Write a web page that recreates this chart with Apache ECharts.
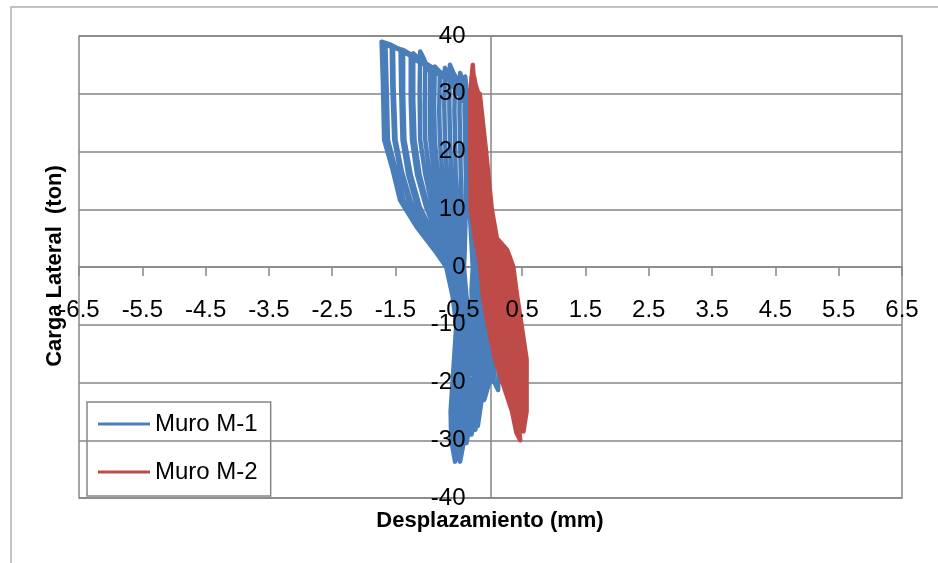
<!DOCTYPE html>
<html><head><meta charset="utf-8">
<script src="https://cdn.jsdelivr.net/npm/echarts@6/dist/echarts.min.js"></script>
<style>html,body{margin:0;padding:0;background:#fff}#c{width:938px;height:563px}</style>
</head><body><div id="c"></div>
<script>
// Axis ticks
const xTicks = [-6.5,-5.5,-4.5,-3.5,-2.5,-1.5,-0.5,0.5,1.5,2.5,3.5,4.5,5.5,6.5];
const yTicks = [-40,-30,-20,-10,0,10,20,30,40];
const seriesNames = ['Muro M-1','Muro M-2'];

// Muro M-1 hysteresis cycles [displacement mm, load ton], small -> large
const m1_c18 = [[0,0],[-0.28,10],[-0.3,20],[-0.34,28],[-0.38,31],[-0.40,33],[-0.41,27],[-0.4,22],[-0.39,16],[-0.39,10.5],[-0.4,6],[-0.41,2],[-0.42,0],[-0.38,-5],[-0.28,-10],[-0.12,-15],[0.05,-19.5],[0.06,-14],[-0.02,-8],[-0.13,-3],[-0.22,0]];
const m1_c17 = [[-0.28,10],[-0.3,20],[-0.34,28],[-0.42,31.5],[-0.45,31.8],[-0.48,33.6],[-0.49,27],[-0.48,22],[-0.47,16],[-0.46,10.5],[-0.45,6],[-0.45,2],[-0.45,0],[-0.42,-5],[-0.35,-10],[-0.22,-15],[-0.04,-20],[0.02,-15],[-0.04,-9],[-0.15,-3],[-0.25,0]];
const m1_c16 = [[-0.3,10],[-0.33,20],[-0.36,28],[-0.44,31],[-0.48,31.5],[-0.56,32.5],[-0.57,27],[-0.56,22],[-0.55,16],[-0.52,10.5],[-0.5,6],[-0.49,2],[-0.48,0],[-0.46,-5],[-0.4,-10],[-0.28,-15],[0.0,-20],[0.08,-16],[0.04,-10],[-0.08,-4],[-0.24,0]];
const m1_c15 = [[-0.3,10],[-0.33,20],[-0.36,28],[-0.44,31],[-0.5,32],[-0.58,33.5],[-0.64,35],[-0.65,28],[-0.64,22],[-0.62,16],[-0.58,10.5],[-0.55,6],[-0.53,2],[-0.51,0],[-0.44,-5],[-0.33,-10],[-0.15,-15],[0.02,-19],[0.12,-21.3],[0.13,-16],[0.07,-10],[-0.06,-4],[-0.22,0]];
const m1_c14 = [[-0.3,10],[-0.33,20],[-0.36,28],[-0.44,31],[-0.5,31.5],[-0.62,33],[-0.72,34.5],[-0.73,28],[-0.72,22],[-0.69,16],[-0.64,10.5],[-0.6,6],[-0.57,2],[-0.54,0],[-0.5,-5],[-0.45,-10],[-0.36,-15],[-0.22,-20],[-0.1,-23],[-0.02,-20],[0.1,-16],[0.05,-9],[-0.1,-3],[-0.23,0]];
const m1_c13 = [[-0.3,10],[-0.33,20],[-0.36,28],[-0.44,31],[-0.55,31.5],[-0.7,32.6],[-0.8,33.2],[-0.81,27],[-0.8,22],[-0.76,16],[-0.7,10.5],[-0.64,6],[-0.6,2],[-0.56,0],[-0.53,-5],[-0.48,-10],[-0.44,-15],[-0.38,-20],[-0.27,-25],[-0.2,-27.5],[-0.14,-23],[-0.05,-18],[0.02,-12],[-0.06,-6],[-0.2,-1.5],[-0.26,0]];
const m1_c12 = [[-0.3,10],[-0.33,20],[-0.36,28],[-0.44,31],[-0.6,32.5],[-0.8,33.8],[-0.88,34.7],[-0.89,28],[-0.88,22],[-0.83,16],[-0.75,10.5],[-0.68,6],[-0.62,2],[-0.58,0],[-0.5,-5],[-0.42,-10],[-0.32,-15],[-0.24,-20],[-0.17,-24.8],[-0.1,-20],[-0.06,-14],[-0.1,-7],[-0.18,-2.5],[-0.24,0]];
const m1_c11 = [[-0.3,10],[-0.33,20],[-0.36,28],[-0.44,31],[-0.55,31.8],[-0.8,33.3],[-0.95,34.2],[-0.96,28],[-0.95,22],[-0.89,16],[-0.8,10.5],[-0.72,6],[-0.64,2],[-0.59,0],[-0.55,-5],[-0.5,-10],[-0.49,-15],[-0.46,-20],[-0.4,-25],[-0.35,-27],[-0.28,-23],[-0.2,-18],[-0.14,-12],[-0.14,-6],[-0.2,-2],[-0.26,0]];
const m1_c10 = [[-0.31,10],[-0.34,20],[-0.36,28],[-0.44,31],[-0.6,32],[-0.85,33.8],[-1.03,35],[-1.04,28],[-1.03,22],[-0.96,16],[-0.86,10.5],[-0.76,6],[-0.66,2],[-0.6,0],[-0.56,-5],[-0.47,-10],[-0.4,-15],[-0.34,-20],[-0.28,-25],[-0.24,-28.2],[-0.15,-23],[-0.08,-17],[-0.02,-11],[-0.1,-5],[-0.25,0]];
const m1_c9 = [[-0.31,10],[-0.34,20],[-0.36,28],[-0.45,30.5],[-0.65,32.8],[-0.9,34.5],[-0.98,34.1],[-1.05,36],[-1.11,37.3],[-1.12,30],[-1.11,22],[-1.03,16],[-0.92,10.5],[-0.8,6],[-0.68,2],[-0.61,0],[-0.57,-5],[-0.52,-10],[-0.5,-15],[-0.45,-20],[-0.37,-25],[-0.3,-29],[-0.22,-25],[-0.12,-19],[-0.06,-13],[-0.05,-7],[-0.17,-2],[-0.26,0]];
const m1_c8 = [[-0.32,10],[-0.35,20],[-0.37,28],[-0.5,31],[-0.8,33.5],[-1.05,35.3],[-1.22,37],[-1.22,29],[-1.2,22],[-1.12,16],[-0.99,10.5],[-0.84,6],[-0.7,2],[-0.62,0],[-0.58,-5],[-0.53,-10],[-0.54,-15],[-0.56,-20],[-0.56,-25],[-0.52,-30],[-0.48,-33.7],[-0.4,-29],[-0.3,-23],[-0.22,-16],[-0.18,-9],[-0.2,-3.5],[-0.26,0]];
const m1_c7 = [[-0.32,10],[-0.35,20],[-0.37,28],[-0.6,32],[-0.95,34.5],[-1.18,35.8],[-1.26,36.6],[-1.26,29],[-1.24,22],[-1.16,16],[-1.02,10.5],[-0.86,6],[-0.71,2],[-0.63,0],[-0.57,-5],[-0.52,-10],[-0.51,-15],[-0.5,-20],[-0.46,-25],[-0.38,-30.5],[-0.3,-26],[-0.2,-20],[-0.1,-14],[-0.07,-8],[-0.18,-2],[-0.26,0]];
const m1_c6 = [[-0.32,10],[-0.35,20],[-0.37,28],[-0.55,31.5],[-0.9,34.2],[-1.2,36.4],[-1.38,37.6],[-1.38,30],[-1.36,22],[-1.26,16],[-1.12,10.5],[-0.92,6],[-0.74,2],[-0.64,0],[-0.59,-5],[-0.53,-10],[-0.56,-15],[-0.59,-20],[-0.61,-25],[-0.6,-30],[-0.56,-33.7],[-0.46,-30],[-0.36,-25],[-0.28,-19],[-0.24,-12],[-0.24,-5],[-0.26,0]];
const m1_c5 = [[-0.32,10],[-0.35,20],[-0.37,28],[-0.65,32.5],[-1.0,35],[-1.3,36.8],[-1.42,37.5],[-1.41,30],[-1.39,22],[-1.3,16],[-1.16,10.5],[-0.94,6],[-0.75,2],[-0.65,0],[-0.56,-5],[-0.49,-10],[-0.48,-15],[-0.5,-20],[-0.49,-25],[-0.45,-31.5],[-0.36,-27],[-0.26,-21],[-0.16,-15],[-0.1,-9],[-0.18,-3],[-0.26,0]];
const m1_c4 = [[-0.33,10],[-0.36,20],[-0.37,28],[-0.6,32],[-1.0,35],[-1.3,37],[-1.54,38.1],[-1.53,31],[-1.5,22],[-1.4,16.5],[-1.25,11],[-1.0,6.5],[-0.78,2.2],[-0.66,0],[-0.59,-5],[-0.54,-10],[-0.57,-15],[-0.6,-20],[-0.62,-25],[-0.58,-30],[-0.55,-32],[-0.44,-28],[-0.32,-22],[-0.22,-15],[-0.14,-9],[-0.16,-4],[-0.25,0]];
const m1_c3 = [[-0.33,10],[-0.36,20],[-0.38,28],[-0.7,33],[-1.1,35.8],[-1.4,37.6],[-1.56,38.3],[-1.55,31],[-1.52,22],[-1.42,16.5],[-1.28,11],[-1.03,6.5],[-0.79,2.2],[-0.67,0],[-0.58,-5],[-0.51,-10],[-0.53,-15],[-0.56,-20],[-0.58,-25],[-0.55,-31],[-0.46,-27],[-0.38,-21],[-0.3,-15],[-0.28,-9],[-0.3,-4],[-0.28,0]];
const m1_c2 = [[-0.33,10],[-0.36,20],[-0.38,28],[-0.65,32.5],[-1.05,35.3],[-1.4,37.5],[-1.66,38.5],[-1.64,31],[-1.62,22],[-1.5,17],[-1.37,11.5],[-1.1,7],[-0.82,2.5],[-0.68,0],[-0.6,-5],[-0.54,-10],[-0.56,-15],[-0.58,-20],[-0.6,-25],[-0.57,-30],[-0.52,-33],[-0.42,-29],[-0.34,-24],[-0.26,-18],[-0.2,-11],[-0.22,-5],[-0.26,0]];
const m1_c1 = [[-0.33,10],[-0.37,20],[-0.38,28],[-0.7,33],[-1.1,35.6],[-1.45,37.8],[-1.6,38.6],[-1.72,39],[-1.7,32],[-1.68,22],[-1.55,17],[-1.43,11.6],[-1.17,7],[-0.85,2.4],[-0.7,0],[-0.6,-5],[-0.52,-10],[-0.55,-15],[-0.6,-20],[-0.63,-25],[-0.62,-30],[-0.56,-33.7],[-0.47,-31],[-0.36,-26],[-0.2,-20],[0.0,-15],[0.0,-8],[-0.14,-3],[-0.26,0]];

// Muro M-2 hysteresis cycles [displacement mm, load ton]
const m2_start = [[0,0],[-0.1,10],[-0.16,20],[-0.2,27]];
const m2_k1 = [[-0.22,29],[-0.16,20],[-0.10,10],[-0.03,5],[0.17,0],[0.22,-5],[0.29,-10],[0.39,-16],[0.43,-20],[0.48,-25],[0.52,-28.5],[0.57,-25],[0.57,-20],[0.57,-16],[0.49,-10],[0.42,-5],[0.36,0],[0.31,1.6],[0.26,3],[0.10,5],[0.02,10],[-0.07,20],[-0.17,30]];
const m2_k2 = [[-0.24,30],[-0.18,20],[-0.13,10],[-0.05,5],[0.13,0],[0.18,-5],[0.26,-10],[0.35,-16],[0.40,-20],[0.47,-25],[0.53,-27.5],[0.55,-25],[0.54,-20],[0.54,-16],[0.45,-10],[0.38,-5],[0.32,0],[0.08,5],[0.0,10],[-0.09,20],[-0.18,30]];
const m2_k3 = [[-0.26,31],[-0.2,20],[-0.15,10],[-0.07,5],[0.09,0],[0.14,-5],[0.22,-10],[0.32,-16],[0.38,-20],[0.45,-25],[0.5,-26],[0.54,-25],[0.52,-20],[0.50,-16],[0.42,-10],[0.34,-5],[0.29,0],[0.05,5],[-0.03,10],[-0.11,20],[-0.19,30]];
const m2_k4 = [[-0.25,32],[-0.21,20],[-0.17,10],[-0.10,5],[0.06,0],[0.11,-5],[0.18,-10],[0.28,-16],[0.35,-20],[0.44,-25],[0.48,-25.5],[0.53,-24],[0.49,-20],[0.47,-16],[0.38,-10],[0.31,-5],[0.25,0],[0.03,5],[-0.05,10],[-0.12,20],[-0.2,30]];
const m2_k5 = [[-0.29,34],[-0.27,30],[-0.23,20],[-0.19,10],[-0.12,5],[0.02,0],[0.07,-5],[0.15,-10],[0.25,-16],[0.32,-20],[0.42,-25],[0.46,-26],[0.51,-25],[0.46,-20],[0.43,-16],[0.34,-10],[0.27,-5],[0.21,0],[0.0,5],[-0.07,10],[-0.14,20],[-0.21,30]];
const m2_k6 = [[-0.26,33],[-0.28,30],[-0.25,20],[-0.22,10],[-0.14,5],[-0.01,0],[0.03,-5],[0.11,-10],[0.21,-16],[0.30,-20],[0.40,-25],[0.45,-27],[0.49,-25],[0.44,-20],[0.40,-16],[0.30,-10],[0.23,-5],[0.18,0],[-0.02,5],[-0.10,10],[-0.16,20],[-0.22,30]];
const m2_k7 = [[-0.27,32.5],[-0.29,30],[-0.27,20],[-0.24,10],[-0.17,5],[-0.05,0],[-0.01,-5],[0.07,-10],[0.18,-16],[0.27,-20],[0.39,-25],[0.44,-27.5],[0.47,-25],[0.41,-20],[0.36,-16],[0.27,-10],[0.19,-5],[0.14,0],[-0.04,5],[-0.12,10],[-0.18,20],[-0.23,30]];
const m2_k8 = [[-0.27,33.5],[-0.3,30],[-0.29,20],[-0.26,10],[-0.19,5],[-0.09,0],[-0.04,-5],[0.03,-10],[0.14,-16],[0.24,-20],[0.37,-25],[0.44,-28.5],[0.46,-25],[0.38,-20],[0.33,-16],[0.23,-10],[0.16,-5],[0.11,0],[-0.07,5],[-0.14,10],[-0.19,20],[-0.24,30]];
const m2_k9 = [[-0.3,33],[-0.31,30],[-0.30,20],[-0.29,10],[-0.22,5],[-0.12,0],[-0.08,-5],[0.0,-10],[0.11,-16],[0.22,-20],[0.36,-25],[0.46,-29],[0.44,-25],[0.36,-20],[0.29,-16],[0.19,-10],[0.12,-5],[0.07,0],[-0.09,5],[-0.16,10],[-0.21,20],[-0.25,30]];
const m2_k10 = [[-0.28,35],[-0.32,30],[-0.32,20],[-0.31,10],[-0.24,5],[-0.16,0],[-0.12,-5],[-0.04,-10],[0.07,-16],[0.19,-20],[0.34,-25],[0.41,-28.7],[0.47,-30],[0.42,-25],[0.33,-20],[0.26,-16],[0.16,-10],[0.08,-5],[0.03,0],[-0.11,5],[-0.19,10],[-0.23,20],[-0.26,30]];

const m1 = [].concat(m1_c18,m1_c17,m1_c16,m1_c15,m1_c14,m1_c13,m1_c12,m1_c11,m1_c10,m1_c9,m1_c8,m1_c7,m1_c6,m1_c5,m1_c4,m1_c3,m1_c2,m1_c1);
const m2 = [].concat(m2_start,m2_k1,m2_k2,m2_k3,m2_k4,m2_k5,m2_k6,m2_k7,m2_k8,m2_k9,m2_k10);

const FONT = "'Liberation Sans', Arial, sans-serif";
const GRID = '#868686';
const BLUE = '#4a7ebb', RED = '#be4b48';
const W = 938, H = 563;
const G = {left:79, right:36, top:36, bottom:65};
const xInt = xTicks[1]-xTicks[0], yInt = yTicks[1]-yTicks[0];
const xMin = xTicks[0], xMax = xTicks[xTicks.length-1];
const yMin = yTicks[0], yMax = yTicks[yTicks.length-1];
// label axes are shifted so that they sit on the zero lines (like the axis lines)
const gw = W - G.left - G.right, gh = H - G.top - G.bottom;
const xLabelOffset = -gh * (0 - yMin) / (yMax - yMin);
const yLabelOffset = -gw * (0 - xMin) / (xMax - xMin);

const chart = echarts.init(document.getElementById('c'), null, {renderer:'canvas'});
chart.setOption({
  animation: false,
  backgroundColor: '#fff',
  grid: Object.assign({show:true, borderColor:GRID, borderWidth:1.5, outerBoundsMode:'none', containLabel:false}, G),
  xAxis: [
    {type:'value', min:xMin, max:xMax, interval:xInt, position:'bottom', z:0,
     axisLine:{show:true, onZero:true, onZeroAxisIndex:0, lineStyle:{color:GRID, width:1.5}},
     axisTick:{show:true, length:9, lineStyle:{color:GRID, width:1.5}},
     axisLabel:{show:false}, splitLine:{show:false}},
    {type:'value', min:xMin, max:xMax, interval:xInt, position:'bottom', offset:xLabelOffset, z:10,
     axisLine:{show:false, onZero:false},
     axisTick:{show:false}, splitLine:{show:false},
     axisLabel:{show:true, margin:31, color:'#000', fontFamily:FONT, fontSize:24, showMinLabel:true, showMaxLabel:true, hideOverlap:false,
       formatter: v => String(v)}}
  ],
  yAxis: [
    {type:'value', min:yMin, max:yMax, interval:yInt, position:'left', z:0,
     axisLine:{show:true, onZero:true, onZeroAxisIndex:0, lineStyle:{color:GRID, width:1.5}},
     axisTick:{show:false}, axisLabel:{show:false},
     splitLine:{show:true, lineStyle:{color:GRID, width:1.5}}},
    {type:'value', min:yMin, max:yMax, interval:yInt, position:'left', offset:yLabelOffset, z:10,
     axisLine:{show:false, onZero:false},
     axisTick:{show:false}, splitLine:{show:false},
     axisLabel:{show:true, margin:25, color:'#000', fontFamily:FONT, fontSize:24, showMinLabel:true, showMaxLabel:true, hideOverlap:false}}
  ],
  legend: {
    data: seriesNames, orient:'vertical', left:87, top:402, icon:'rect',
    padding:[9,13,11,11], itemGap:22, itemWidth:52, itemHeight:3,
    borderColor:GRID, borderWidth:1.5, backgroundColor:'transparent',
    textStyle:{fontFamily:FONT, fontSize:24, color:'#000', lineHeight:26}
  },
  series: [
    {name:seriesNames[0], type:'line', data:m1, xAxisIndex:0, yAxisIndex:0, symbol:'none', showSymbol:false,
     lineStyle:{color:BLUE, width:4.5, join:'round', cap:'round'}, itemStyle:{color:BLUE}, z:2},
    {name:seriesNames[1], type:'line', data:m2, xAxisIndex:0, yAxisIndex:0, symbol:'none', showSymbol:false,
     lineStyle:{color:RED, width:4.5, join:'round', cap:'round'}, itemStyle:{color:RED}, z:3}
  ],
  graphic: [
    {type:'rect', z:-1, silent:true, shape:{x:11, y:7, width:940, height:570}, style:{fill:'none', stroke:'#b0b0b0', lineWidth:1.5}},
    {type:'text', x:490, y:521, z:20, style:{text:'Desplazamiento (mm)', font:"bold 22px "+FONT, fill:'#000', textAlign:'center', textVerticalAlign:'middle'}},
    {type:'text', x:55, y:266, rotation:Math.PI/2, z:20, style:{text:'Carga Lateral  (ton)', font:"bold 22px "+FONT, fill:'#000', textAlign:'center', textVerticalAlign:'middle'}}
  ]
});
</script></body></html>
